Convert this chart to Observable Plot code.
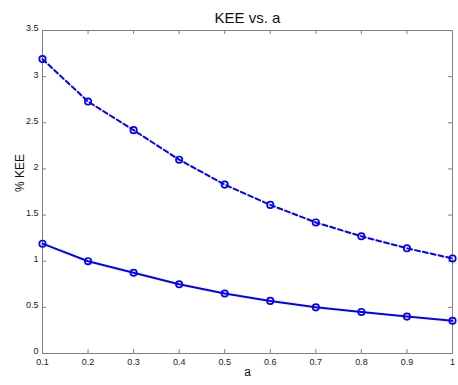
<!DOCTYPE html>
<html>
<head>
<meta charset="utf-8">
<script src="https://cdn.jsdelivr.net/npm/d3@7"></script>
<script src="https://cdn.jsdelivr.net/npm/@observablehq/plot@0.6"></script>
<style>
  html, body { margin: 0; padding: 0; background: #fff; }
  #chart svg { display: block; }
</style>
</head>
<body>
<div id="chart"></div>
<script>
const aValues = [0.1, 0.2, 0.3, 0.4, 0.5, 0.6, 0.7, 0.8, 0.9, 1.0];
const keeDashed = [3.19, 2.73, 2.42, 2.10, 1.83, 1.61, 1.42, 1.27, 1.14, 1.03];
const keeSolid = [1.19, 1.00, 0.875, 0.75, 0.65, 0.57, 0.50, 0.45, 0.40, 0.355];
const xTicks = [0.1, 0.2, 0.3, 0.4, 0.5, 0.6, 0.7, 0.8, 0.9, 1];
const yTicks = [0, 0.5, 1, 1.5, 2, 2.5, 3, 3.5];
const titleText = "KEE vs. a";
const xLabel = "a";
const yLabel = "% KEE";

const dashed = aValues.map((a, i) => ({a, v: keeDashed[i]}));
const solid = aValues.map((a, i) => ({a, v: keeSolid[i]}));

const W = 458, H = 385;
const mL = 42, mR = 6, mT = 30, mB = 32;
const pw = W - mL - mR, ph = H - mT - mB;
const tk = 4;
const axisGray = "#808080";
const blue = "#0000ff";
const font = "Liberation Sans, Arial, sans-serif";

const chart = Plot.plot({
  width: W,
  height: H,
  marginLeft: mL,
  marginRight: mR,
  marginTop: mT,
  marginBottom: mB,
  style: {fontFamily: font, background: "#fff", color: "#222"},
  x: {domain: [0.1, 1], ticks: xTicks},
  y: {domain: [0, 3.5], ticks: yTicks},
  marks: [
    Plot.frame({stroke: axisGray, strokeWidth: 1}),
    Plot.tickX(xTicks, {x: d => d, insetTop: ph - tk, stroke: axisGray}),
    Plot.tickX(xTicks, {x: d => d, insetBottom: ph - tk, stroke: axisGray}),
    Plot.tickY(yTicks, {y: d => d, insetRight: pw - tk, stroke: axisGray}),
    Plot.tickY(yTicks, {y: d => d, insetLeft: pw - tk, stroke: axisGray}),
    Plot.axisX({ticks: xTicks, tickSize: 0, tickPadding: 5, fontSize: 9, label: null, tickFormat: d => String(d)}),
    Plot.axisY({ticks: yTicks, tickSize: 0, tickPadding: 4, dy: -2, fontSize: 9, label: null, tickFormat: d => String(d)}),
    Plot.line(dashed, {x: "a", y: "v", stroke: blue, strokeWidth: 2, strokeDasharray: "5,3"}),
    Plot.line(solid, {x: "a", y: "v", stroke: blue, strokeWidth: 2}),
    Plot.dot(dashed, {x: "a", y: "v", r: 3.2, stroke: blue, strokeWidth: 1.7, fill: "none"}),
    Plot.dot(solid, {x: "a", y: "v", r: 3.2, stroke: blue, strokeWidth: 1.7, fill: "none"}),
    Plot.text([titleText], {frameAnchor: "top", dy: -18, fontSize: 15, fill: "#111"}),
    Plot.text([xLabel], {frameAnchor: "bottom", dy: 22, fontSize: 12, fill: "#111"}),
    Plot.text([yLabel], {frameAnchor: "left", dx: -22, rotate: -90, fontSize: 12, fill: "#111"})
  ]
});
document.getElementById("chart").appendChild(chart);
</script>
</body>
</html>
